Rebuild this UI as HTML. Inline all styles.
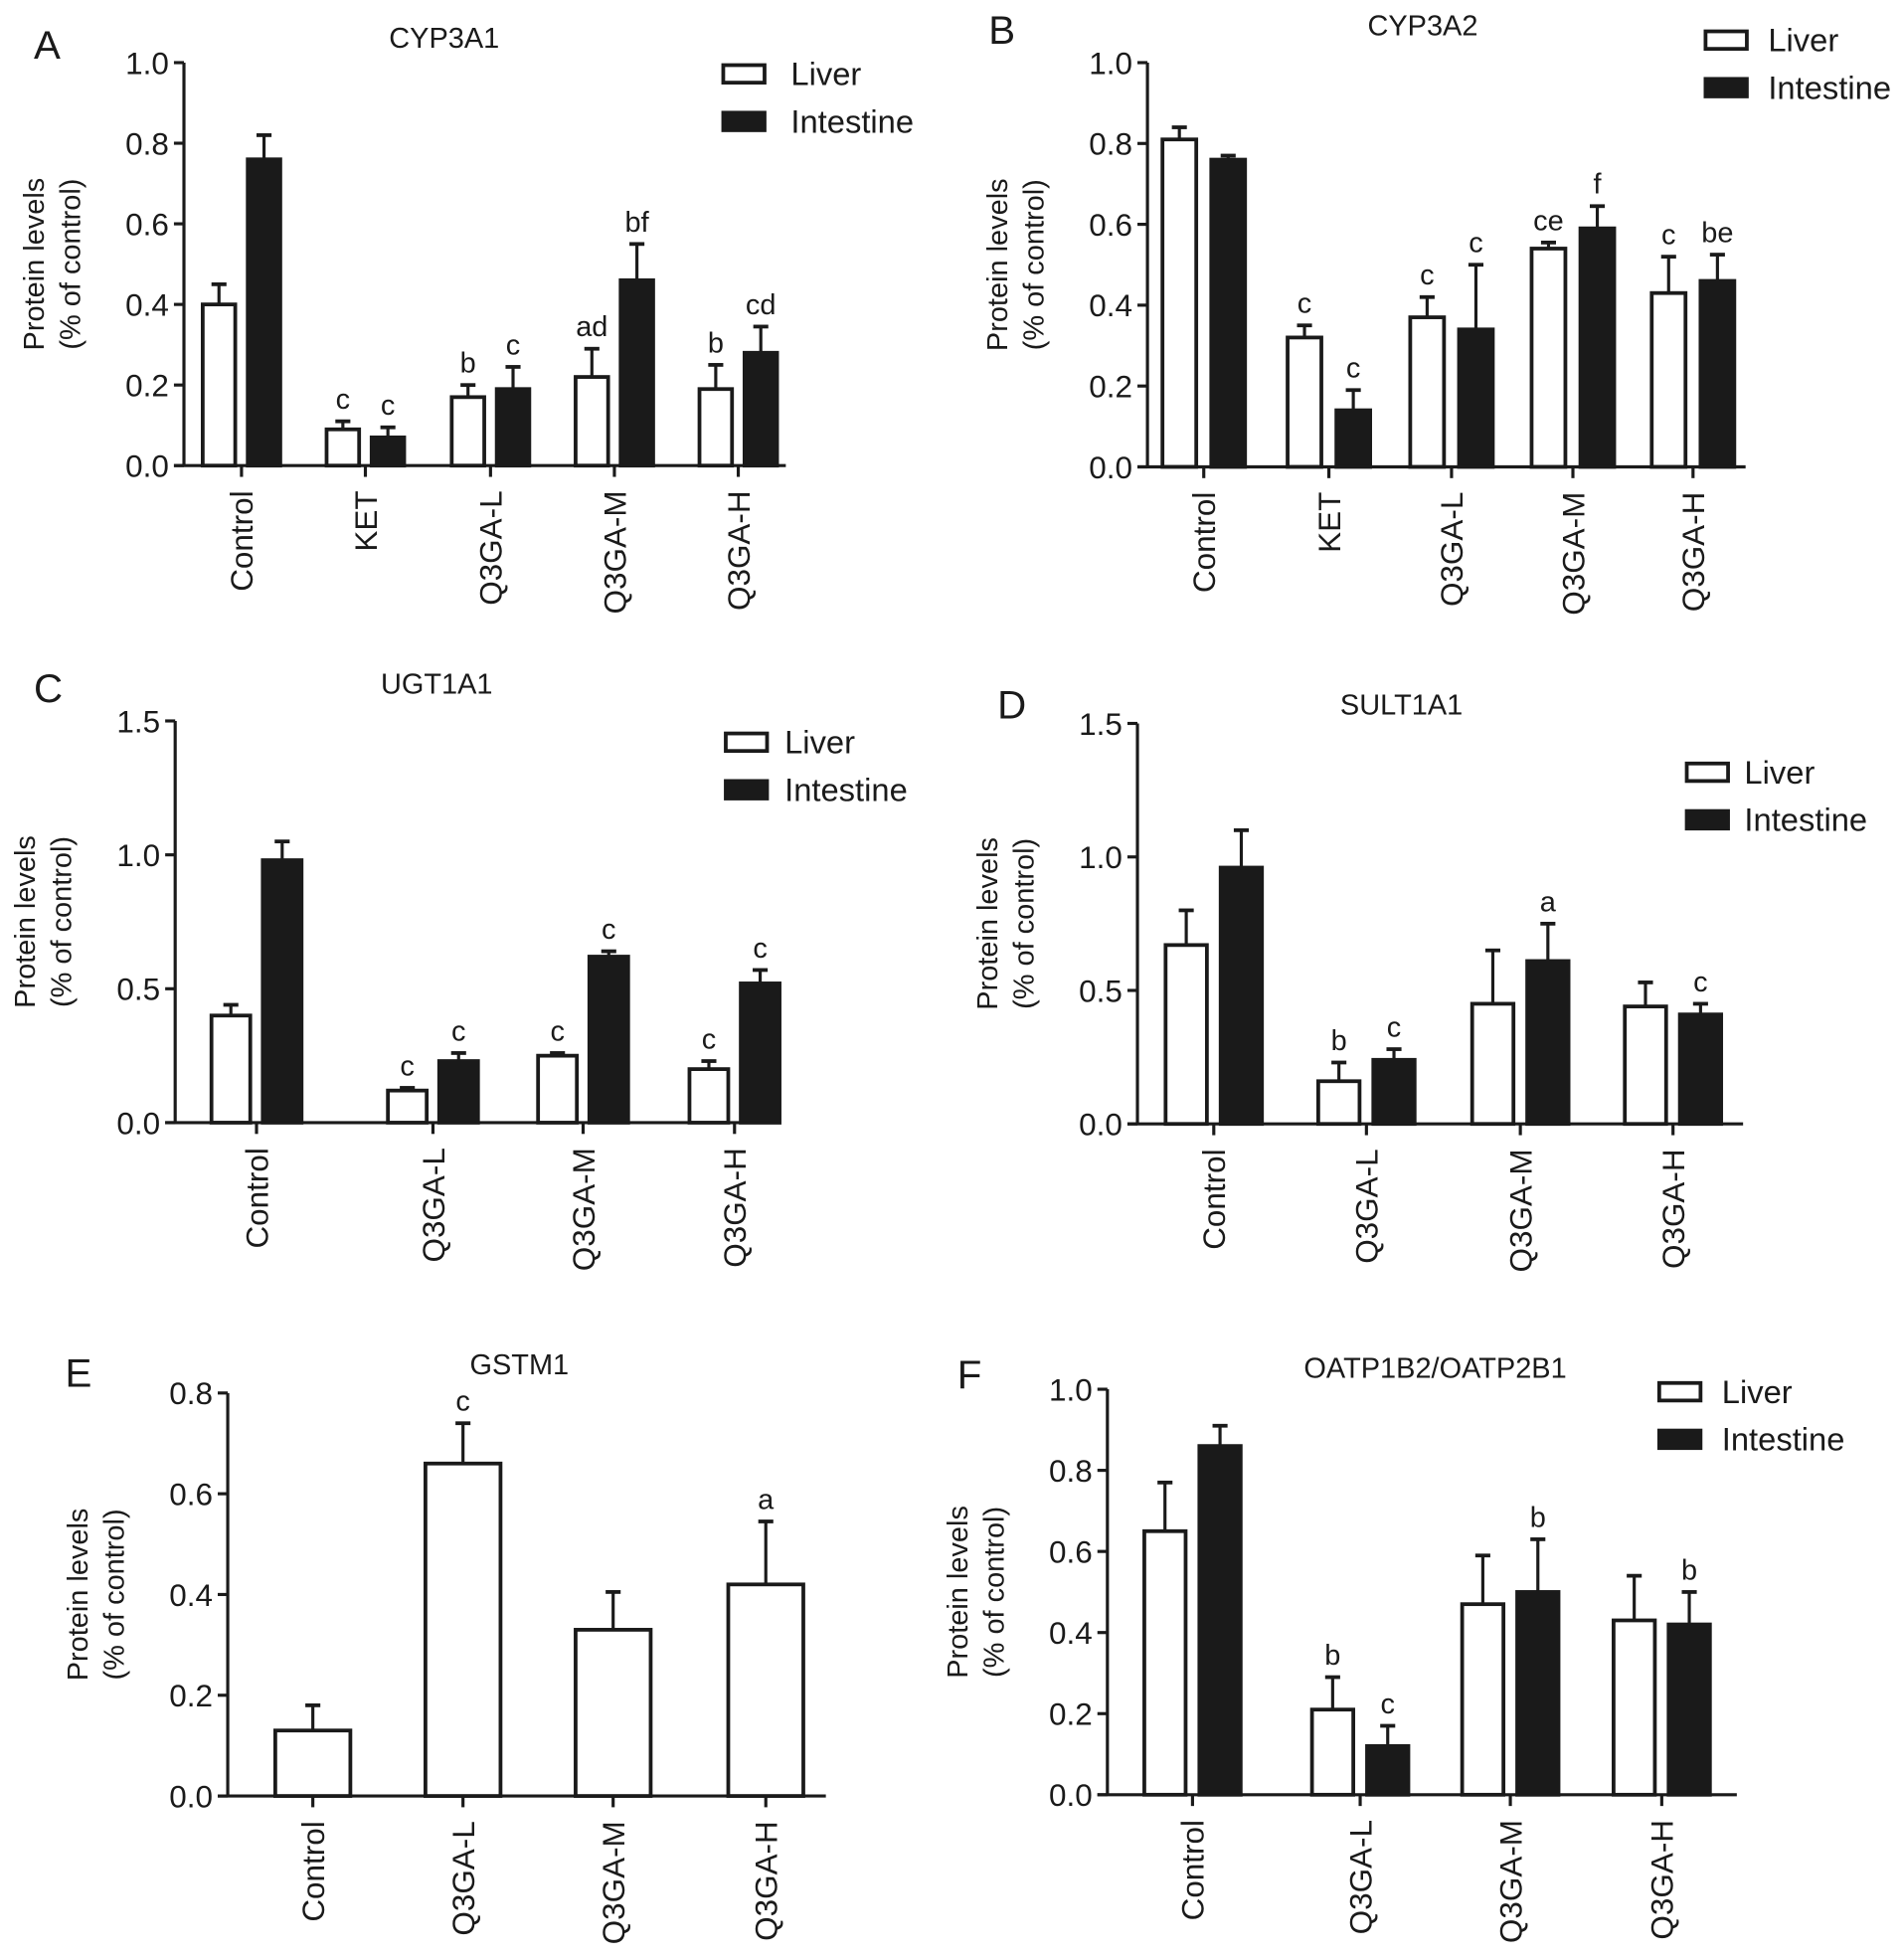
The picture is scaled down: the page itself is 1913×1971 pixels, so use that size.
<!DOCTYPE html>
<html><head><meta charset="utf-8"><style>
html,body{margin:0;padding:0;background:#fff;}
svg{display:block;}
text{font-family:"Liberation Sans Narrow","Liberation Sans",sans-serif;fill:#1a1a1a;}
</style></head><body>
<svg id="fig" width="1913" height="1971" viewBox="0 0 1520 1566" xmlns="http://www.w3.org/2000/svg"></svg>
<script>
// ---- data ----
const catsA = ["Control","KET","Q3GA-L","Q3GA-M","Q3GA-H"];
const liverA = [0.40,0.09,0.17,0.22,0.19];
const liverErrA = [0.45,0.11,0.20,0.29,0.25];
const intA = [0.76,0.07,0.19,0.46,0.28];
const intErrA = [0.82,0.095,0.245,0.55,0.345];
const liverLabA = ["","c","b","ad","b"];
const intLabA = ["","c","c","bf","cd"];

const catsB = ["Control","KET","Q3GA-L","Q3GA-M","Q3GA-H"];
const liverB = [0.81,0.32,0.37,0.54,0.43];
const liverErrB = [0.84,0.35,0.42,0.555,0.52];
const intB = [0.76,0.14,0.34,0.59,0.46];
const intErrB = [0.77,0.19,0.50,0.645,0.525];
const liverLabB = ["","c","c","ce","c"];
const intLabB = ["","c","c","f","be"];

const catsC = ["Control","Q3GA-L","Q3GA-M","Q3GA-H"];
const liverC = [0.40,0.12,0.25,0.20];
const liverErrC = [0.44,0.13,0.26,0.23];
const intC = [0.98,0.23,0.62,0.52];
const intErrC = [1.05,0.26,0.64,0.57];
const liverLabC = ["","c","c","c"];
const intLabC = ["","c","c","c"];

const catsD = ["Control","Q3GA-L","Q3GA-M","Q3GA-H"];
const liverD = [0.67,0.16,0.45,0.44];
const liverErrD = [0.80,0.23,0.65,0.53];
const intD = [0.96,0.24,0.61,0.41];
const intErrD = [1.10,0.28,0.75,0.45];
const liverLabD = ["","b","",""];
const intLabD = ["","c","a","c"];

const catsE = ["Control","Q3GA-L","Q3GA-M","Q3GA-H"];
const valsE = [0.13,0.66,0.33,0.42];
const errE = [0.18,0.74,0.405,0.545];
const labE = ["","c","","a"];

const catsF = ["Control","Q3GA-L","Q3GA-M","Q3GA-H"];
const liverF = [0.65,0.21,0.47,0.43];
const liverErrF = [0.77,0.29,0.59,0.54];
const intF = [0.86,0.12,0.50,0.42];
const intErrF = [0.91,0.17,0.63,0.50];
const liverLabF = ["","b","",""];
const intLabF = ["","c","b","b"];

const ticksA = ["0.0","0.2","0.4","0.6","0.8","1.0"];
const ticksC = ["0.0","0.5","1.0","1.5"];
const ticksE = ["0.0","0.2","0.4","0.6","0.8"];

// ---- drawing ----
const NS = "http://www.w3.org/2000/svg";
const svg = document.getElementById('fig');
function mk(tag, attrs, parent, txt){
  const e = document.createElementNS(NS, tag);
  for (const k in attrs) e.setAttribute(k, attrs[k]);
  if (txt !== undefined) e.textContent = txt;
  (parent || svg).appendChild(e);
  return e;
}

function panel(p){
  const g = mk('g', {});
  
  
  const y = v => p.y0 - (v / p.ymax) * (p.y0 - p.ytop);
  const xc = i => p.xt[i];
  const L = mk('text', {x:p.letter[0], y:p.letter[1], 'font-size':32}, g, p.id);
  
  
  const T = mk('text', {x:p.title[0], y:p.title[1], 'font-size':23, 'text-anchor':'middle'}, g, p.name);
  
  
  const cy = (p.y0 + p.ytop) / 2;
  const yl = mk('text', {transform:`translate(${p.ax-112},${cy}) rotate(-90)`, 'font-size':23, 'text-anchor':'middle'}, g);
  
  
  mk('tspan', {x:0, y:0}, yl, 'Protein levels');
  mk('tspan', {x:0, y:29}, yl, '(% of control)');
  const n = p.cats.length;
  for (let i = 0; i < n; i++){
    p.series.forEach((s, si) => {
      const ns = p.series.length;
      const off = ns === 1 ? 0 : (si === 0 ? -(p.bw + p.gap) / 2 : (p.bw + p.gap) / 2);
      const cx = xc(i) + off;
      const top = y(s.v[i]), et = y(s.e[i]);
      const el = mk('line', {x1:cx, x2:cx, y1:et, y2:top, stroke:'#1a1a1a', 'stroke-width':2.5}, g);
      
      
      mk('line', {x1:cx-6, x2:cx+6, y1:et, y2:et, stroke:'#1a1a1a', 'stroke-width':3}, g);
      const r = mk('rect', {x:cx - p.bw/2, y:top, width:p.bw, height:p.y0 - top,
        fill: s.fill ? '#1a1a1a' : '#fff', stroke:'#1a1a1a', 'stroke-width':3}, g);
      
      
      if (s.l[i]){
        const t = mk('text', {x:cx, y:et - 10, 'font-size':23, 'text-anchor':'middle'}, g, s.l[i]);
        
        
      }
    });
  }
  const ya = mk('line', {x1:p.ax, x2:p.ax, y1:p.ytop, y2:p.y0, stroke:'#1a1a1a', 'stroke-width':2.5}, g);
  
  
  const xa = mk('line', {x1:p.ax - 8, x2:p.xend, y1:p.y0, y2:p.y0, stroke:'#1a1a1a', 'stroke-width':2.5}, g);
  
  
  p.ticks.forEach(t => {
    const yy = y(parseFloat(t));
    mk('line', {x1:p.ax - 8, x2:p.ax, y1:yy, y2:yy, stroke:'#1a1a1a', 'stroke-width':2.5}, g);
    const tl = mk('text', {x:p.ax - 12, y:yy + 9, 'font-size':25, 'text-anchor':'end'}, g, t);
    
    
  });
  for (let i = 0; i < n; i++){
    mk('line', {x1:xc(i), x2:xc(i), y1:p.y0, y2:p.y0 + 9, stroke:'#1a1a1a', 'stroke-width':2.5}, g);
    const cl = mk('text', {transform:`translate(${xc(i)+9},${p.y0+20}) rotate(-90)`, 'font-size':25, 'text-anchor':'end'}, g, p.cats[i]);
    
    
  }
  if (p.leg){
    const [lx, ly, tx] = p.leg;
    [['Liver', false, ly], ['Intestine', true, ly + 38]].forEach(([nm, f, yy]) => {
      const le = mk('g', {}, g);
      
      
      mk('rect', {x:lx, y:yy - 7, width:33, height:14, fill: f ? '#1a1a1a' : '#fff', stroke:'#1a1a1a', 'stroke-width':3}, le);
      mk('text', {x:tx, y:yy + 9, 'font-size':26}, le, nm);
    });
  }
}

panel({id:'A', name:'CYP3A1', letter:[27,47], title:[355,38], ax:147, y0:372, ytop:50, ymax:1.0, xend:628,
  xt:[193,292,392,491,590], bw:26, gap:10, ticks:ticksA, cats:catsA, leg:[578,59,632],
  series:[{n:'liver', v:liverA, e:liverErrA, l:liverLabA, fill:false},{n:'intestine', v:intA, e:intErrA, l:intLabA, fill:true}]});
panel({id:'B', name:'CYP3A2', letter:[790,35], title:[1137,28], ax:917, y0:373, ytop:50, ymax:1.0, xend:1395,
  xt:[962,1062,1160,1257,1353], bw:27, gap:12, ticks:ticksA, cats:catsB, leg:[1363,32,1413],
  series:[{n:'liver', v:liverB, e:liverErrB, l:liverLabB, fill:false},{n:'intestine', v:intB, e:intErrB, l:intLabB, fill:true}]});
panel({id:'C', name:'UGT1A1', letter:[27,561], title:[349,554], ax:140, y0:897, ytop:576, ymax:1.5, xend:615,
  xt:[205,346,466,587], bw:31, gap:10, ticks:ticksC, cats:catsC, leg:[580,593,627],
  series:[{n:'liver', v:liverC, e:liverErrC, l:liverLabC, fill:false},{n:'intestine', v:intC, e:intErrC, l:intLabC, fill:true}]});
panel({id:'D', name:'SULT1A1', letter:[797,574], title:[1120,571], ax:909, y0:898, ytop:578, ymax:1.5, xend:1393,
  xt:[970,1092,1215,1337], bw:33, gap:11, ticks:ticksC, cats:catsD, leg:[1348,617,1394],
  series:[{n:'liver', v:liverD, e:liverErrD, l:liverLabD, fill:false},{n:'intestine', v:intD, e:intErrD, l:intLabD, fill:true}]});
panel({id:'E', name:'GSTM1', letter:[52,1108], title:[415,1098], ax:182, y0:1435, ytop:1113, ymax:0.8, xend:660,
  xt:[250,370,490,612], bw:60, gap:0, ticks:ticksE, cats:catsE, leg:null,
  series:[{n:'value', v:valsE, e:errE, l:labE, fill:false}]});
panel({id:'F', name:'OATP1B2/OATP2B1', letter:[765,1109], title:[1147,1101], ax:885, y0:1434, ytop:1110, ymax:1.0, xend:1388,
  xt:[953,1087,1207,1328], bw:33, gap:11, ticks:ticksA, cats:catsF, leg:[1326,1112,1376],
  series:[{n:'liver', v:liverF, e:liverErrF, l:liverLabF, fill:false},{n:'intestine', v:intF, e:intErrF, l:intLabF, fill:true}]});
</script>
</body></html>
